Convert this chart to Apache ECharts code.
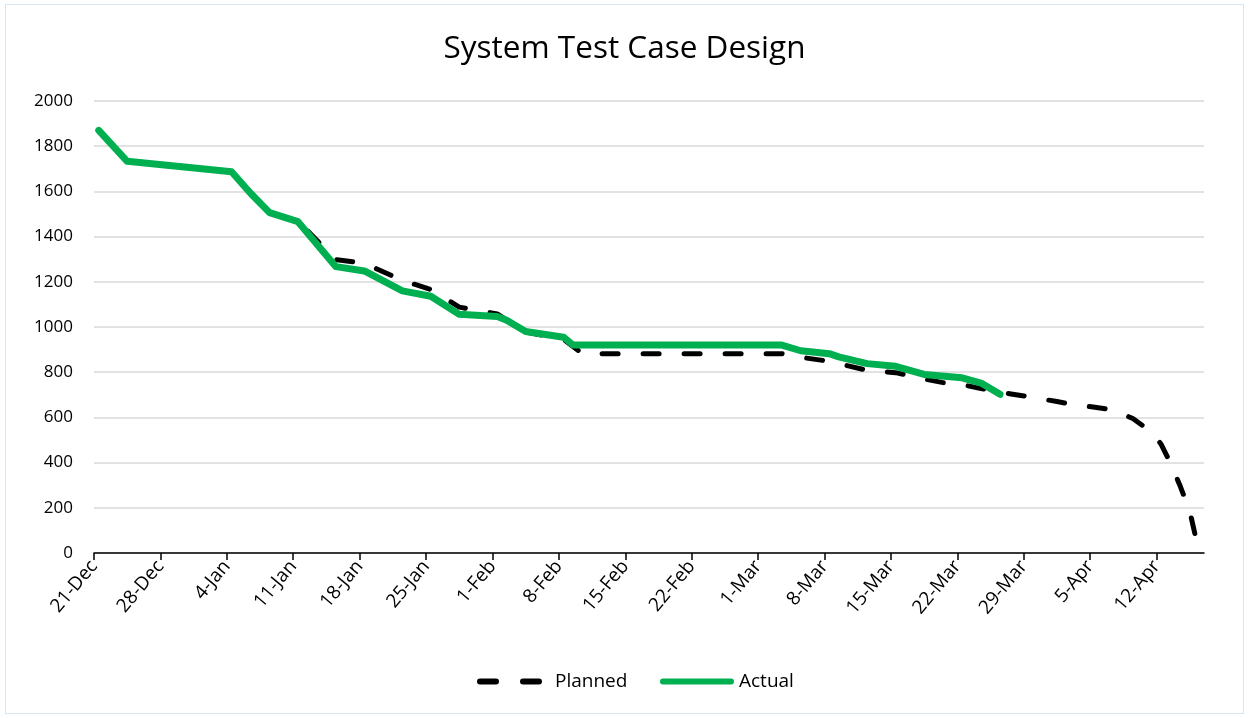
<!DOCTYPE html>
<html>
<head>
<meta charset="utf-8">
<title>System Test Case Design</title>
<script src="https://cdn.jsdelivr.net/npm/echarts@6/dist/echarts.min.js"></script>
<style>
  html, body { margin: 0; padding: 0; background: #fff; }
  #chart { width: 1249px; height: 718px; }
  #frame {
    position: absolute; left: 5px; top: 4px; width: 1237px; height: 708px;
    border: 1px solid #d5e7f3; pointer-events: none;
  }
</style>
</head>
<body>
<div id="chart"></div>
<div id="frame"></div>
<script>
var startDate = '2018-12-21'
var endDate = '2019-04-17' // axis runs to the end of 16-Apr

var plannedDates = [
  '2018-12-21', '2018-12-24', '2019-01-04', '2019-01-06', '2019-01-08', '2019-01-11',
  '2019-01-15', '2019-01-18', '2019-01-22', '2019-01-25', '2019-01-28', '2019-02-01',
  '2019-02-04', '2019-02-08', '2019-02-10', '2019-03-03', '2019-03-05', '2019-03-08',
  '2019-03-10', '2019-03-12', '2019-03-15', '2019-03-18', '2019-03-20', '2019-03-22',
  '2019-03-24', '2019-03-26', '2019-03-27', '2019-03-29', '2019-04-01', '2019-04-03',
  '2019-04-05', '2019-04-07', '2019-04-09', '2019-04-11', '2019-04-12', '2019-04-13',
  '2019-04-14', '2019-04-15', '2019-04-16'
]
var plannedValues = [
  1870, 1735, 1688, 1595, 1508, 1468,
  1298, 1282, 1206, 1166, 1088, 1058,
  978, 945, 882, 882, 866, 848,
  828, 808, 798, 770, 754, 745,
  728, 712, 705, 692, 670, 655,
  645, 632, 595, 535, 480, 395,
  295, 185, 0
]

var actualDates = [
  '2018-12-21', '2018-12-24', '2019-01-04', '2019-01-06', '2019-01-08', '2019-01-11',
  '2019-01-15', '2019-01-18', '2019-01-22', '2019-01-25', '2019-01-28', '2019-02-01',
  '2019-02-02', '2019-02-04', '2019-02-08', '2019-02-09', '2019-03-03', '2019-03-05',
  '2019-03-08', '2019-03-09', '2019-03-12', '2019-03-15', '2019-03-18', '2019-03-22',
  '2019-03-24', '2019-03-26'
]
var actualValues = [
  1870, 1733, 1687, 1592, 1506, 1466,
  1267, 1248, 1160, 1136, 1056, 1046,
  1030, 980, 955, 920, 920, 895,
  882, 868, 838, 826, 790, 775,
  752, 702
]

var yTicks = [0, 200, 400, 600, 800, 1000, 1200, 1400, 1600, 1800, 2000]
var months = ['Jan', 'Feb', 'Mar', 'Apr', 'May', 'Jun', 'Jul', 'Aug', 'Sep', 'Oct', 'Nov', 'Dec']

var DAY = 86400000
function dayIndex(s) {
  return (Date.parse(s) - Date.parse(startDate)) / DAY
}
function dayLabel(d) {
  var dt = new Date(Date.parse(startDate) + d * DAY)
  return dt.getUTCDate() + '-' + months[dt.getUTCMonth()]
}
// excel puts each point in the middle of its day slot
function toPoints(dates, values) {
  var pts = []
  for (var i = 0; i < dates.length; i++) {
    pts.push([dayIndex(dates[i]) + 0.5, values[i]])
  }
  return pts
}

var lastDay = dayIndex(endDate)
var weekTicks = []
for (var d = 0; d <= lastDay; d += 7) weekTicks.push(d)

// legend swatches: two round dashes / one thick round bar
var dashIcon = 'path://M3,0h16a3,3 0 0 1 0,6h-16a3,3 0 0 1 0,-6z M46,0h16a3,3 0 0 1 0,6h-16a3,3 0 0 1 0,-6z'
var barIcon = 'path://M3,0h68a3,3 0 0 1 0,6h-68a3,3 0 0 1 0,-6z'

var font = 'Open Sans'
var legendText = { fontFamily: font, fontSize: 19, color: '#000' }

var chart = echarts.init(document.getElementById('chart'))
var option = {
  animation: false,
  title: {
    text: 'System Test Case Design',
    left: 'center',
    top: 28,
    textStyle: { fontFamily: font, fontSize: 31.5, fontWeight: 'normal', color: '#000' }
  },
  legend: [
    {
      top: 667,
      left: 472,
      itemWidth: 65,
      itemHeight: 6,
      textStyle: Object.assign({ padding: [0, 0, 0, 8] }, legendText),
      data: [{ name: 'Planned', icon: dashIcon }]
    },
    {
      top: 667,
      left: 655,
      itemWidth: 74,
      itemHeight: 6,
      textStyle: legendText,
      data: [{ name: 'Actual', icon: barIcon }]
    }
  ],
  grid: { left: 94, right: 45, top: 101, bottom: 165, containLabel: false },
  xAxis: {
    type: 'value',
    min: 0,
    max: lastDay,
    interval: 7,
    axisLine: { lineStyle: { color: '#000', width: 1.5 } },
    axisTick: { show: true, length: 7, customValues: weekTicks, lineStyle: { color: '#000', width: 1.5 } },
    axisLabel: {
      customValues: weekTicks,
      rotate: 50,
      margin: 10,
      fontFamily: font,
      fontSize: 19,
      color: '#000',
      formatter: function (v) { return dayLabel(v) }
    },
    splitLine: { show: false }
  },
  yAxis: {
    type: 'value',
    min: yTicks[0],
    max: yTicks[yTicks.length - 1],
    interval: 200,
    axisLine: { show: false },
    axisTick: { show: false },
    axisLabel: {
      margin: 21,
      fontFamily: font,
      fontSize: 17,
      color: '#000',
      formatter: function (v) { return String(v) }
    },
    splitLine: { lineStyle: { color: '#d9d9d9', width: 1.5 } }
  },
  series: [
    {
      name: 'Planned',
      type: 'line',
      symbol: 'none',
      lineStyle: { color: '#000', width: 5, type: [16, 25], cap: 'round', join: 'round' },
      itemStyle: { color: '#000' },
      data: toPoints(plannedDates, plannedValues)
    },
    {
      name: 'Actual',
      type: 'line',
      symbol: 'none',
      lineStyle: { color: '#00b050', width: 7, cap: 'round', join: 'round' },
      itemStyle: { color: '#00b050' },
      data: toPoints(actualDates, actualValues)
    }
  ]
}
chart.setOption(option)
</script>
</body>
</html>
